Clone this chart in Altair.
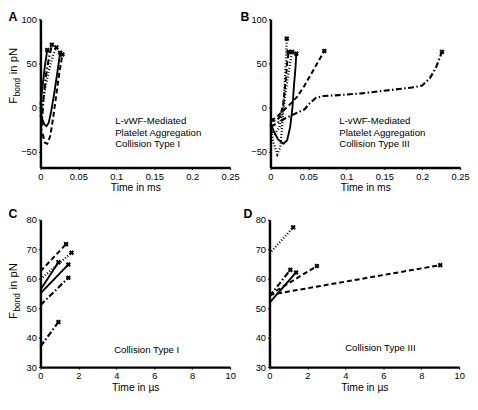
import altair as alt
import pandas as pd

FONT = "Liberation Sans"

# ---------------- Panel A : L-vWF, Collision Type I (time in ms) ----------------
A_solid1_x = [0.0, 0.002, 0.005, 0.008, 0.011, 0.014, 0.018, 0.022, 0.026]
A_solid1_y = [-3, -12, -19, -21, -17, -5, 15, 38, 62]
A_solid2_x = [0.0, 0.002, 0.004, 0.006, 0.009]
A_solid2_y = [3, 18, 33, 48, 65]
A_dashed_x = [0.003, 0.006, 0.009, 0.013, 0.017, 0.021, 0.025, 0.029]
A_dashed_y = [-30, -40, -41, -32, -10, 15, 40, 60]
A_dashdot_x = [0.001, 0.002, 0.004, 0.007, 0.011, 0.015]
A_dashdot_y = [-35, -15, 10, 35, 55, 71]
A_dotted_x = [0.0, 0.003, 0.007, 0.012, 0.017, 0.021]
A_dotted_y = [-10, 5, 25, 45, 60, 68]

# ---------------- Panel B : L-vWF, Collision Type III (time in ms) ----------------
B_solid_x = [0.0, 0.005, 0.010, 0.017, 0.022, 0.026, 0.029, 0.031, 0.033, 0.034]
B_solid_y = [-18, -28, -36, -41, -37, -22, 0, 25, 45, 61]
B_dotted1_x = [0.0, 0.004, 0.009, 0.013, 0.016, 0.018, 0.020, 0.0215]
B_dotted1_y = [-20, -40, -53, -45, -15, 15, 45, 78]
B_dotted2_x = [0.0, 0.006, 0.012, 0.018, 0.023, 0.0285]
B_dotted2_y = [-25, -30, -22, 5, 35, 63]
B_dashed1_x = [0.0, 0.008, 0.013, 0.017, 0.020, 0.022, 0.024]
B_dashed1_y = [-15, -15, -10, 5, 30, 50, 63]
B_dashed2_x = [0.0, 0.007, 0.015, 0.025, 0.035, 0.045, 0.055, 0.063, 0.071]
B_dashed2_y = [-14, -12, -5, 3, 12, 25, 40, 52, 64]
B_dashdot_x = [0.0, 0.010, 0.020, 0.035, 0.045, 0.052, 0.060, 0.070, 0.090,
               0.120, 0.160, 0.190, 0.200, 0.210, 0.218, 0.226]
B_dashdot_y = [-22, -17, -12, -6, -2, 5, 11, 13, 14, 16, 20, 23, 25, 33, 45, 63]

# ---------------- Panel C : Collision Type I (time in us) ----------------
C_dashed1_x = [0.0, 1.35]
C_dashed1_y = [62.5, 71.7]
C_dotted_x = [0.0, 1.64]
C_dotted_y = [59.8, 68.8]
C_solid1_x = [0.0, 0.95]
C_solid1_y = [56.2, 65.6]
C_solid2_x = [0.0, 1.47]
C_solid2_y = [55.0, 64.8]
C_dashdot_x = [0.0, 1.47]
C_dashdot_y = [51.0, 60.3]
C_dashed2_x = [0.0, 0.95]
C_dashed2_y = [37.0, 45.3]

# ---------------- Panel D : Collision Type III (time in us) ----------------
D_dotted_x = [0.0, 1.25]
D_dotted_y = [68.5, 77.4]
D_dashdot_x = [0.0, 1.1]
D_dashdot_y = [54.0, 63.0]
D_solid_x = [0.0, 1.4]
D_solid_y = [51.8, 62.1]
D_dashed1_x = [0.0, 2.5]
D_dashed1_y = [54.5, 64.3]
D_dashed2_x = [0.0, 9.0]
D_dashed2_y = [54.5, 64.6]

STYLES = ["solid", "dashed", "dashdot", "dotted"]
DASHES = [[1, 0], [5, 3], [6, 2.5, 1.5, 2.5], [1, 2]]
WIDTHS = [1.9, 2.3, 1.7, 1.0]


def build(series):
    rows, ends = [], []
    for name, style, xs, ys in series:
        for i, (x, y) in enumerate(zip(xs, ys)):
            rows.append({"series": name, "style": style, "i": i, "x": x, "y": y})
        ends.append({"series": name, "x": xs[-1], "y": ys[-1]})
    return pd.DataFrame(rows), pd.DataFrame(ends)


def panel(series, xdom, ydom, xvals, yvals, xtitle, w, h, letter, letter_pos,
          notes, note_pos, ytitle=False, ytitle_base=0):
    df, ends = build(series)
    xs = alt.Scale(domain=xdom, nice=False, zero=False)
    ys = alt.Scale(domain=ydom, nice=False, zero=False)
    xax = alt.Axis(values=xvals, labelExpr="format(datum.value, '~g')",
                   title=xtitle, labelOverlap=False, labelSeparation=0)
    yax = alt.Axis(values=yvals, labelExpr="format(datum.value, '~g')",
                   title=None, labelOverlap=False, labelSeparation=0)
    lines = alt.Chart(df).mark_line(color="black", strokeCap="butt").encode(
        x=alt.X("x:Q", scale=xs, axis=xax),
        y=alt.Y("y:Q", scale=ys, axis=yax),
        detail="series:N",
        order=alt.Order("i:Q"),
        strokeDash=alt.StrokeDash("style:N", scale=alt.Scale(domain=STYLES, range=DASHES), legend=None),
        strokeWidth=alt.StrokeWidth("style:N", scale=alt.Scale(domain=STYLES, range=WIDTHS), legend=None),
    )
    marks = alt.Chart(ends).mark_point(shape="cross", angle=45, filled=True, size=28,
                                       color="black", opacity=1).encode(
        x=alt.X("x:Q", scale=xs, axis=xax), y=alt.Y("y:Q", scale=ys, axis=yax))
    layers = [lines, marks]
    lt = alt.Chart(pd.DataFrame({"t": [letter]})).mark_text(
        font=FONT, fontSize=12.5, fontWeight="bold", color="black",
        align="center", baseline="middle").encode(
        text="t:N", x=alt.value(letter_pos[0]), y=alt.value(letter_pos[1]))
    layers.append(lt)
    for k, note in enumerate(notes):
        layers.append(alt.Chart(pd.DataFrame({"t": [note]})).mark_text(
            font=FONT, fontSize=9.8, color="black", align="left", baseline="middle").encode(
            text="t:N", x=alt.value(note_pos[0]), y=alt.value(note_pos[1] + 11.5 * k)))
    if ytitle:
        parts = [("F", 11.5, -27, 0), ("bond", 8.5, -23.5, 7.5), ("in pN", 11.5, -27, 30)]
        for txt, fs, xx, off in parts:
            layers.append(alt.Chart(pd.DataFrame({"t": [txt]})).mark_text(
                font=FONT, fontSize=fs, color="black", angle=270,
                align="left", baseline="middle").encode(
                text="t:N", x=alt.value(xx), y=alt.value(ytitle_base - off)))
    return alt.layer(*layers).properties(width=w, height=h)


MS_TICKS = [0, 0.05, 0.1, 0.15, 0.2, 0.25]
US_TICKS = [0, 2, 4, 6, 8, 10]

pA = panel([("s1", "solid", A_solid1_x, A_solid1_y),
            ("s2", "solid", A_solid2_x, A_solid2_y),
            ("d1", "dashed", A_dashed_x, A_dashed_y),
            ("dd", "dashdot", A_dashdot_x, A_dashdot_y),
            ("dt", "dotted", A_dotted_x, A_dotted_y)],
           [0, 0.25], [-68, 100], MS_TICKS, [-50, 0, 50, 100],
           "Time in ms", 193, 151, "A", (-28, -2),
           ["L-vWF-Mediated", "Platelet Aggregation", "Collision Type I"], (76, 104),
           ytitle=True, ytitle_base=86)

pB = panel([("s1", "solid", B_solid_x, B_solid_y),
            ("t1", "dotted", B_dotted1_x, B_dotted1_y),
            ("t2", "dotted", B_dotted2_x, B_dotted2_y),
            ("d1", "dashed", B_dashed1_x, B_dashed1_y),
            ("d2", "dashed", B_dashed2_x, B_dashed2_y),
            ("dd", "dashdot", B_dashdot_x, B_dashdot_y)],
           [0, 0.25], [-68, 100], MS_TICKS, [-50, 0, 50, 100],
           "Time in ms", 193, 151, "B", (-26, -2),
           ["L-vWF-Mediated", "Platelet Aggregation", "Collision Type III"], (70, 104))

pC = panel([("d1", "dashed", C_dashed1_x, C_dashed1_y),
            ("t1", "dotted", C_dotted_x, C_dotted_y),
            ("s1", "solid", C_solid1_x, C_solid1_y),
            ("s2", "solid", C_solid2_x, C_solid2_y),
            ("dd", "dashdot", C_dashdot_x, C_dashdot_y),
            ("d2", "dashdot", C_dashed2_x, C_dashed2_y)],
           [0, 10], [30, 80], US_TICKS, [30, 40, 50, 60, 70, 80],
           "Time in  \u00b5s", 193, 150, "C", (-28, -6),
           ["Collision Type I"], (75, 133),
           ytitle=True, ytitle_base=101)

pD = panel([("t1", "dotted", D_dotted_x, D_dotted_y),
            ("dd", "dashdot", D_dashdot_x, D_dashdot_y),
            ("s1", "solid", D_solid_x, D_solid_y),
            ("d1", "dashed", D_dashed1_x, D_dashed1_y),
            ("d2", "dashed", D_dashed2_x, D_dashed2_y)],
           [0, 10], [30, 80], US_TICKS, [30, 40, 50, 60, 70, 80],
           "Time in  \u00b5s", 193, 150, "D", (-22, -6),
           ["Collision Type III"], (77, 131))

chart = alt.vconcat(
    alt.hconcat(pA, pB, spacing=0),
    alt.hconcat(pC, pD, spacing=7),
    spacing=15,
).properties(padding=0).configure_view(stroke=None).configure_axis(
    domainColor="black", domainWidth=2.5, tickColor="black", tickSize=2, tickWidth=1,
    labelFont=FONT, labelFontSize=9.5, labelColor="black", labelPadding=2,
    titleFont=FONT, titleFontSize=10.5, titleFontWeight="normal", titleColor="black",
    titlePadding=2, grid=False, labelOverlap=False,
).configure_axisX(labelFlush=False)

chart.save("out.html", embed_options={"renderer": "svg", "actions": False})
